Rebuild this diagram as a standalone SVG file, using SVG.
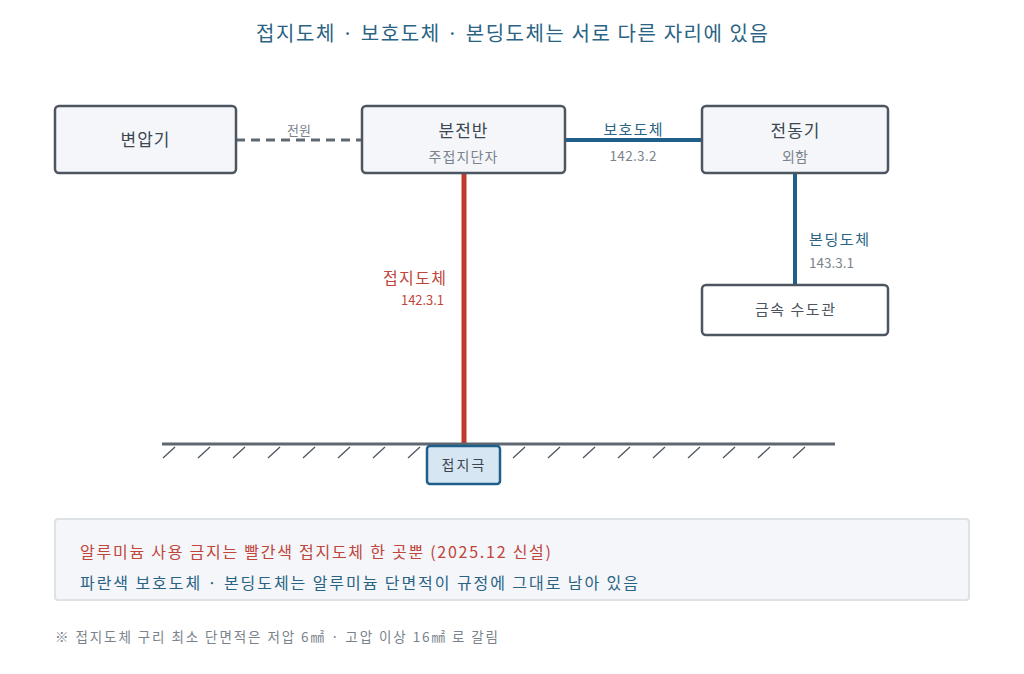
<svg xmlns="http://www.w3.org/2000/svg" width="1024" height="674" viewBox="0 0 1024 674">
<style>
text{font-family:"Noto Sans CJK KR","Noto Sans",sans-serif}
.node{fill:#f4f6fa;stroke:#4d5660;stroke-width:2.5}
.plain{fill:#ffffff;stroke:#4d5660;stroke-width:2.5}
.t{font-size:17px;fill:#3c4650;text-anchor:middle}
.s{font-size:14px;fill:#7a838c;text-anchor:middle}
.blue{fill:#2a6384}
.red{fill:#c0453a}
.num{font-size:13.5px;fill:#7a838c}
.hatch{stroke:#4d5660;stroke-width:1.3}
</style>
<rect width="1024" height="674" fill="#ffffff"/>
<text x="512" y="41" font-size="20" class="blue" text-anchor="middle" textLength="512" lengthAdjust="spacing">접지도체 · 보호도체 · 본딩도체는 서로 다른 자리에 있음</text>

<g id="connectors">
<line x1="236" y1="140" x2="362" y2="140" stroke="#5f6870" stroke-width="3" stroke-dasharray="9,6"/>
<text x="299" y="135" font-size="13" fill="#7a838c" text-anchor="middle">전원</text>
<line x1="565" y1="140" x2="702" y2="140" stroke="#1f5f8a" stroke-width="4"/>
<text x="633" y="135" font-size="15" class="blue" text-anchor="middle" textLength="59" lengthAdjust="spacing">보호도체</text>
<text x="633" y="161" class="num" text-anchor="middle" textLength="47" lengthAdjust="spacing">142.3.2</text>
<line x1="795" y1="173" x2="795" y2="285" stroke="#1f5f8a" stroke-width="4"/>
<text x="809" y="245" font-size="15" class="blue" textLength="60" lengthAdjust="spacing">본딩도체</text>
<text x="809" y="268" class="num" textLength="45" lengthAdjust="spacing">143.3.1</text>
<line x1="464" y1="173" x2="464" y2="446" stroke="#c0392b" stroke-width="5"/>
<text x="446" y="284" font-size="16" class="red" text-anchor="end" textLength="63" lengthAdjust="spacing">접지도체</text>
<text x="444" y="305" font-size="13" class="red" text-anchor="end" textLength="43" lengthAdjust="spacing">142.3.1</text>
</g>

<g id="ground">
<line x1="162" y1="444" x2="835" y2="444" stroke="#5f6870" stroke-width="3"/>
<g class="hatch">
<line x1="163" y1="458" x2="175" y2="447"/>
<line x1="198" y1="458" x2="210" y2="447"/>
<line x1="233" y1="458" x2="245" y2="447"/>
<line x1="268" y1="458" x2="280" y2="447"/>
<line x1="303" y1="458" x2="315" y2="447"/>
<line x1="338" y1="458" x2="350" y2="447"/>
<line x1="373" y1="458" x2="385" y2="447"/>
<line x1="408" y1="458" x2="420" y2="447"/>
<line x1="513" y1="458" x2="525" y2="447"/>
<line x1="548" y1="458" x2="560" y2="447"/>
<line x1="583" y1="458" x2="595" y2="447"/>
<line x1="618" y1="458" x2="630" y2="447"/>
<line x1="653" y1="458" x2="665" y2="447"/>
<line x1="688" y1="458" x2="700" y2="447"/>
<line x1="723" y1="458" x2="735" y2="447"/>
<line x1="758" y1="458" x2="770" y2="447"/>
<line x1="793" y1="458" x2="805" y2="447"/>
</g>
</g>

<g id="transformer">
<rect x="55" y="106" width="181" height="67" rx="4" class="node"/>
<text x="145" y="146" class="t" textLength="49" lengthAdjust="spacing">변압기</text>
</g>
<g id="panel">
<rect x="362" y="106" width="203" height="67" rx="4" class="node"/>
<text x="463" y="137" class="t" textLength="49" lengthAdjust="spacing">분전반</text>
<text x="463" y="162" class="s" textLength="69" lengthAdjust="spacing">주접지단자</text>
</g>
<g id="motor">
<rect x="702" y="106" width="186" height="67" rx="4" class="node"/>
<text x="795" y="137" class="t" textLength="49" lengthAdjust="spacing">전동기</text>
<text x="795" y="162" class="s">외함</text>
</g>
<g id="waterpipe">
<rect x="702" y="285" width="186" height="50" rx="4" class="plain"/>
<text x="795" y="315" font-size="15" fill="#4d5660" text-anchor="middle" textLength="80" lengthAdjust="spacing">금속 수도관</text>
</g>
<g id="electrode">
<rect x="427" y="446" width="73" height="38" rx="3" fill="#d6e6f2" stroke="#1f5f8a" stroke-width="2.5"/>
<text x="463" y="470" font-size="14" fill="#3c4650" text-anchor="middle" textLength="43" lengthAdjust="spacing">접지극</text>
</g>

<g id="note">
<rect x="55" y="519" width="914" height="81" rx="3" fill="#f4f6fa" stroke="#dde2e6" stroke-width="2"/>
<text x="80" y="558" font-size="16" class="red" textLength="471" lengthAdjust="spacing">알루미늄 사용 금지는 빨간색 접지도체 한 곳뿐 (2025.12 신설)</text>
<text x="80" y="589" font-size="16" class="blue" textLength="558" lengthAdjust="spacing">파란색 보호도체 · 본딩도체는 알루미늄 단면적이 규정에 그대로 남아 있음</text>
</g>
<text x="55" y="642" font-size="13.5" fill="#7a838c" textLength="443" lengthAdjust="spacing">※ 접지도체 구리 최소 단면적은 저압 6㎟ · 고압 이상 16㎟ 로 갈림</text>
</svg>
